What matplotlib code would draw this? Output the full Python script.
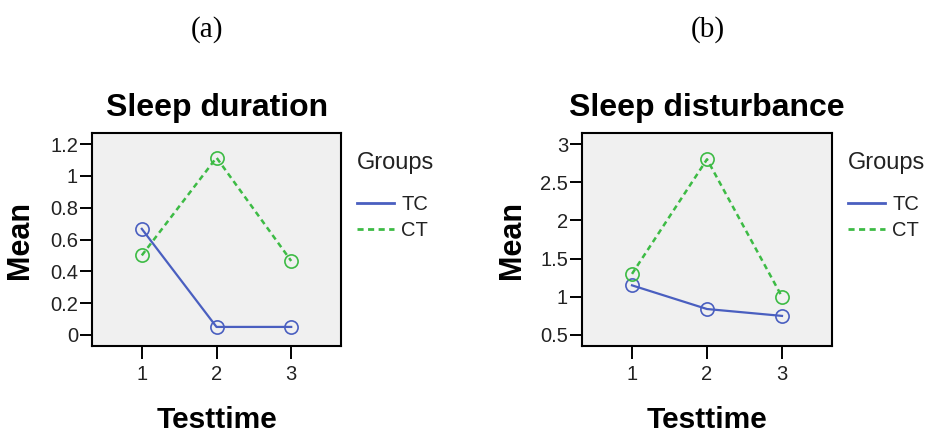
import matplotlib
matplotlib.use('Agg')
import matplotlib.pyplot as plt
from matplotlib.lines import Line2D

plt.rcParams['font.family'] = ['Liberation Sans', 'DejaVu Sans']

testtime = [1, 2, 3]
groups = ['TC', 'CT']

duration_tc = [0.667, 0.05, 0.05]
duration_ct = [0.5, 1.115, 0.465]

disturb_tc = [1.15, 0.84, 0.75]
disturb_ct = [1.30, 2.80, 1.00]

blue = '#4a5fc0'
green = '#3dbb45'
dash = (0, (2.2, 1.6))

W, H = 931, 434
fig = plt.figure(figsize=(W / 100, H / 100), dpi=100)


def px_axes(x0, x1, ytop, ybot):
    return fig.add_axes([x0 / W, 1 - ybot / H, (x1 - x0) / W, (ybot - ytop) / H])


def draw(ax, tc, ct, yticks, ylabels, ylim):
    ax.set_facecolor('#f0f0f0')
    ax.plot(testtime, tc, color=blue, lw=1.6, marker='o', ms=9.5,
            mfc='none', mec=blue, mew=1.2)
    ax.plot(testtime, ct, color=green, lw=1.8, ls=dash, marker='o',
            ms=9.5, mfc='none', mec=green, mew=1.2)
    ax.set_xlim(1 - 2 / 3, 3 + 2 / 3)
    ax.set_ylim(*ylim)
    ax.set_xticks(testtime)
    ax.set_xticklabels([str(t) for t in testtime])
    ax.set_yticks(yticks)
    ax.set_yticklabels(ylabels)
    for s in ax.spines.values():
        s.set_linewidth(1.5)
    ax.tick_params(axis='y', length=9, width=1.4, pad=1, labelsize=14.5, labelcolor='#222222')
    ax.tick_params(axis='x', length=9.5, width=1.4, pad=4, labelsize=14.5, labelcolor='#222222')
    # legend: plain line handles, no markers
    handles = [Line2D([], [], color=blue, lw=2.0),
               Line2D([], [], color=green, lw=2.0, ls=dash)]
    leg = ax.legend(handles, groups, title='Groups', frameon=False, loc='upper left',
                    bbox_to_anchor=(1.064, 0.911), fontsize=14.5, title_fontsize=17,
                    handlelength=1.84, handletextpad=0.35, labelspacing=0.37,
                    borderpad=0, borderaxespad=0, alignment='left')
    leg._legend_box.sep = 15
    leg.get_title().set_color('#222222')
    for t in leg.get_texts():
        t.set_color('#222222')


ax1 = px_axes(92, 341, 133, 346)
draw(ax1, duration_tc, duration_ct, [0, 0.2, 0.4, 0.6, 0.8, 1.0, 1.2],
     ['0', '0.2', '0.4', '0.6', '0.8', '1', '1.2'], (-0.07, 1.27))

ax2 = px_axes(582, 832, 133, 346)
draw(ax2, disturb_tc, disturb_ct, [0.5, 1.0, 1.5, 2.0, 2.5, 3.0],
     ['0.5', '1', '1.5', '2', '2.5', '3'], (0.356, 3.144))


# titles and axis labels placed in pixel positions
def ftext(x, y, s, **kw):
    fig.text(x / W, 1 - y / H, s, ha='center', va='center', **kw)


ftext(217, 108, 'Sleep duration', fontsize=23, fontweight='bold')
ftext(707, 108, 'Sleep disturbance', fontsize=23, fontweight='bold')
ftext(20, 240, 'Mean', fontsize=22, fontweight='bold', rotation=90)
ftext(512, 240, 'Mean', fontsize=22, fontweight='bold', rotation=90)
ftext(217, 420, 'Testtime', fontsize=21.5, fontweight='bold')
ftext(707, 420, 'Testtime', fontsize=21.5, fontweight='bold')
ftext(207.5, 30, '(a)', fontsize=21, family='Liberation Serif')
ftext(708, 30, '(b)', fontsize=21, family='Liberation Serif')

fig.savefig('out.png', dpi=100, facecolor='white')
